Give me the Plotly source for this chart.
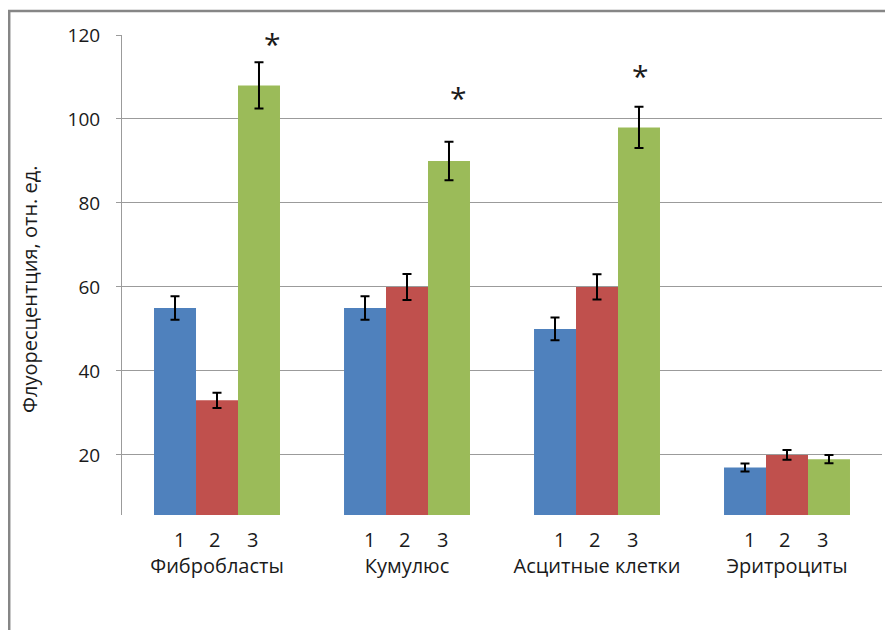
import plotly.graph_objects as go

# ---- data ----
categories = ["Фибробласты", "Кумулюс", "Асцитные клетки", "Эритроциты"]
series_names = ["1", "2", "3"]
values_1 = [55, 55, 50, 17]
values_2 = [33, 60, 60, 20]
values_3 = [108, 90, 98, 19]
errors_1 = [2.8, 2.8, 2.7, 0.95]
errors_2 = [1.8, 3.1, 3.0, 1.15]
errors_3 = [5.5, 4.6, 4.9, 1.0]
significance = ["*", "*", "*", ""]
y_ticks = [20, 40, 60, 80, 100, 120]
y_title = "Флуоресцентция, отн. ед."

# ---- style ----
colors = ["#4F81BD", "#C0504D", "#9BBB59"]
FONT = "Open Sans"
TXT = "#1a1a1a"
GRID = "#9b9b9b"

# page has an 8px body margin; figure sized to fit the window
W, H = 885, 622
ML, MR, MT, MB = 114, 11, 27, 115
PW, PH = W - ML - MR, H - MT - MB

fig = go.Figure()
for name, vals, errs, col in zip(series_names,
                                 [values_1, values_2, values_3],
                                 [errors_1, errors_2, errors_3],
                                 colors):
    fig.add_trace(go.Bar(
        x=categories, y=vals, name=name,
        marker=dict(color=col, line=dict(width=0)),
        error_y=dict(type="data", array=errs, visible=True,
                     color="black", thickness=2, width=4.5),
    ))

annotations = []
# sub-labels 1 2 3 under each group
label_offsets = [-0.2, -0.015, 0.185]
for i, cat in enumerate(categories):
    for off, s in zip(label_offsets, series_names):
        annotations.append(dict(
            x=i + off, y=-24 / PH, xref="x", yref="paper",
            text=s, showarrow=False, font=dict(family=FONT, size=20, color=TXT),
            xanchor="center", yanchor="middle"))

# significance stars above the third series
star_dx = [0.29, 0.27, 0.23, 0.0]
star_pad = [4.5, 10.6, 7.4, 0]
for i, (mark, v, e) in enumerate(zip(significance, values_3, errors_3)):
    if mark:
        annotations.append(dict(
            x=i + star_dx[i], y=v + e + star_pad[i], xref="x", yref="y",
            text=mark, showarrow=False,
            font=dict(family=FONT, size=30, color=TXT),
            xanchor="center", yanchor="middle"))

# y-axis title
annotations.append(dict(
    x=-93 / PW, y=(507 - 281) / PH,
    xref="paper", yref="paper", text=y_title, textangle=-90,
    showarrow=False, font=dict(family=FONT, size=20, color=TXT),
    xanchor="center", yanchor="middle"))

fig.update_layout(
    width=W, height=H,
    margin=dict(l=ML, r=MR, t=MT, b=MB, pad=0),
    paper_bgcolor="white", plot_bgcolor="white",
    barmode="group", bargap=0.337, bargroupgap=0,
    showlegend=False,
    font=dict(family=FONT, size=19, color=TXT),
    annotations=annotations,
    shapes=[dict(type="rect", xref="paper", yref="paper",
                 x0=-(ML - 1.2) / PW, x1=1.2,
                 y0=-0.5, y1=(PH + MT - 3) / PH,
                 line=dict(color="#868686", width=2.5),
                 fillcolor="rgba(0,0,0,0)", layer="above")],
)
fig.update_xaxes(
    type="category", range=[-0.5, 3.5],
    showgrid=False, showline=False, zeroline=False, ticks="",
    ticklabelstandoff=37,
    tickfont=dict(family=FONT, size=20, color=TXT),
)
fig.update_yaxes(
    range=[5.7, 120], tickvals=y_ticks,
    showgrid=True, gridcolor=GRID, gridwidth=1,
    showline=True, linecolor=GRID, linewidth=1,
    ticks="outside", ticklen=5, tickcolor=GRID,
    ticklabelstandoff=12, zeroline=False,
    tickfont=dict(family=FONT, size=19, color=TXT),
)

fig.write_html("out.html")
